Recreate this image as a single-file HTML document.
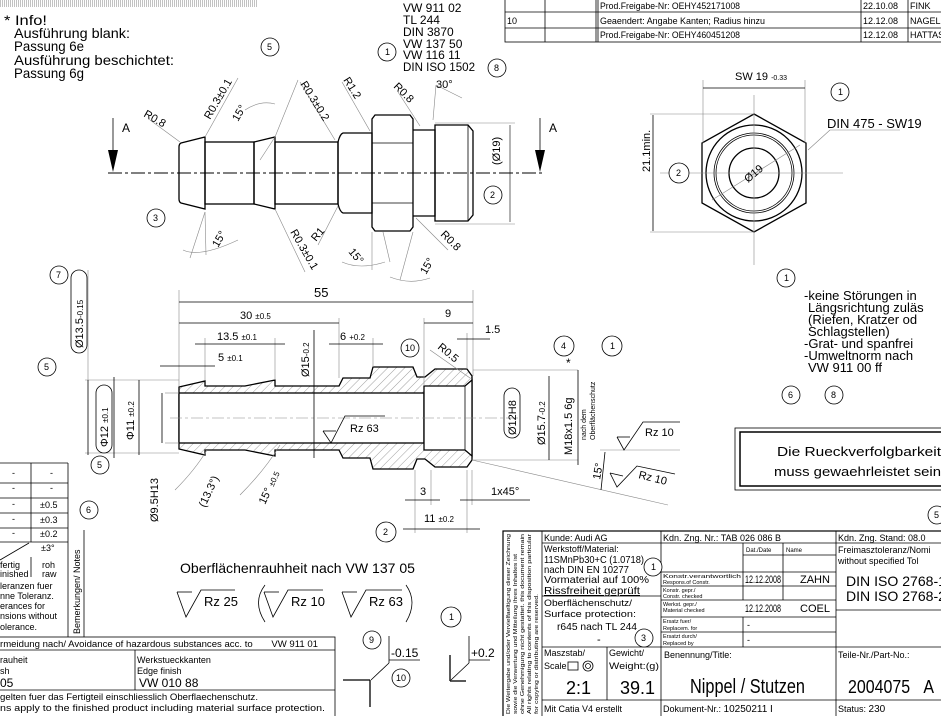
<!DOCTYPE html>
<html><head><meta charset="utf-8">
<style>
html,body{margin:0;padding:0;background:#fff;}
svg{display:block;}
text{font-family:"Liberation Sans Narrow","Liberation Sans","DejaVu Sans",sans-serif;fill:#000;}
.t{font-size:12px;}
.s{font-size:9px;}
.m{font-size:11px;}
.th{stroke:#000;stroke-width:1.3;fill:none;}
.tn{stroke:#000;stroke-width:0.8;fill:none;}
.lt{stroke:#888;stroke-width:0.6;fill:none;}
.c{stroke:#000;stroke-width:0.8;fill:#fff;}
</style></head>
<body>
<svg width="941" height="716" viewBox="0 0 941 716" xmlns="http://www.w3.org/2000/svg">
<defs>
<pattern id="h" width="6" height="6" patternUnits="userSpaceOnUse" patternTransform="rotate(45)">
<line x1="0" y1="0" x2="0" y2="6" stroke="#777" stroke-width="0.7"/>
</pattern>
<pattern id="v" width="2" height="7" patternUnits="userSpaceOnUse">
<line x1="0.5" y1="0" x2="0.5" y2="7" stroke="#999" stroke-width="0.6"/>
</pattern>
</defs>

<rect x="0" y="0" width="258" height="7" fill="url(#v)"/>

<g style="font-size:14px">
<text x="4" y="25" textLength="43" lengthAdjust="spacingAndGlyphs">* Info!</text>
<text x="14" y="38" textLength="116" lengthAdjust="spacingAndGlyphs">Ausführung blank:</text>
<text x="14" y="51" textLength="70" lengthAdjust="spacingAndGlyphs">Passung 6e</text>
<text x="14" y="65" textLength="160" lengthAdjust="spacingAndGlyphs">Ausführung beschichtet:</text>
<text x="14" y="78" textLength="70" lengthAdjust="spacingAndGlyphs">Passung 6g</text>
</g>

<text class="t" x="403" y="12">VW 911 02</text>
<text class="t" x="403" y="24">TL 244</text>
<text class="t" x="403" y="36">DIN 3870</text>
<text class="t" x="403" y="48">VW 137 50</text>
<text class="t" x="403" y="59">VW 116 11</text>
<text class="t" x="403" y="71" textLength="72" lengthAdjust="spacingAndGlyphs">DIN ISO 1502</text>
<circle class="c" cx="270" cy="47" r="9"/><text class="s" x="267" y="50">5</text>
<circle class="c" cx="387" cy="52" r="9"/><text class="s" x="385" y="55">1</text>
<circle class="c" cx="497" cy="68" r="9"/><text class="s" x="494" y="71">8</text>

<g class="tn">
<rect x="505" y="-1" width="440" height="43"/>
<line x1="505" y1="12" x2="941" y2="12"/>
<line x1="505" y1="28" x2="941" y2="28"/>
<line x1="545" y1="0" x2="545" y2="42"/>
<line x1="596" y1="0" x2="596" y2="42"/>
<line x1="598" y1="0" x2="598" y2="42"/>
<line x1="861" y1="0" x2="861" y2="42"/>
<line x1="908" y1="0" x2="908" y2="42"/>
</g>
<text class="s" x="600" y="9" textLength="140" lengthAdjust="spacingAndGlyphs">Prod.Freigabe-Nr: OEHY452171008</text>
<text class="s" x="863" y="9">22.10.08</text><text class="s" x="910" y="9">FINK</text>
<text class="s" x="507" y="24">10</text>
<text class="s" x="600" y="24" textLength="165" lengthAdjust="spacingAndGlyphs">Geaendert: Angabe Kanten; Radius hinzu</text>
<text class="s" x="863" y="24">12.12.08</text><text class="s" x="910" y="24">NAGEL</text>
<text class="s" x="600" y="38" textLength="140" lengthAdjust="spacingAndGlyphs">Prod.Freigabe-Nr: OEHY460451208</text>
<text class="s" x="863" y="38">12.12.08</text><text class="s" x="910" y="38">HATTAS</text>

<!-- SIDE VIEW -->
<line x1="108" y1="173" x2="545" y2="173" stroke="#000" stroke-width="1" stroke-dasharray="14,3,3,3"/>
<g class="th">
<path d="M181,143 L205,137 L205,209 L181,203 Q179,202 179,199 L179,147 Q179,144 181,143 Z"/>
<rect x="205" y="142" width="49" height="62"/>
<path d="M254,142 L275,137 L275,209 L254,204 Z"/>
<rect x="275" y="142" width="63" height="62"/>
<path d="M338,142 Q340,134 343,133 L372,133 L372,213 L343,213 Q340,212 338,204 Z"/>
<path d="M375,115 L410,115 L413,119 L413,227 L410,231 L375,231 L372,227 L372,119 Z"/>
<path d="M413,130 L435,130 L435,216 L413,216"/>
<path d="M435,125 L468,125 L473,131 L473,215 L468,221 L435,221 Z"/>
</g>
<g class="tn">
<line x1="372" y1="143" x2="413" y2="143"/><line x1="372" y1="203" x2="413" y2="203"/>
<line x1="468" y1="125" x2="468" y2="221"/>
</g>
<g class="lt">
<line x1="435" y1="123" x2="515" y2="123"/><line x1="435" y1="224" x2="515" y2="224"/>
<line x1="510" y1="125" x2="510" y2="222" stroke="#000"/>
<line x1="150" y1="120" x2="180" y2="142"/><line x1="205" y1="137" x2="238" y2="78"/>
<line x1="275" y1="137" x2="298" y2="80"/><line x1="335" y1="140" x2="300" y2="82"/>
<line x1="370" y1="131" x2="342" y2="82"/><line x1="420" y1="126" x2="398" y2="92"/>
<line x1="433" y1="120" x2="436" y2="85"/><line x1="436" y1="85" x2="462" y2="98"/>
<line x1="205" y1="212" x2="190" y2="258"/><line x1="205" y1="212" x2="206" y2="255"/>
<line x1="275" y1="209" x2="305" y2="272"/><line x1="338" y1="206" x2="318" y2="245"/>
<line x1="372" y1="232" x2="372" y2="270"/><line x1="383" y1="232" x2="390" y2="262"/>
<line x1="413" y1="232" x2="400" y2="280"/><line x1="416" y1="218" x2="448" y2="250"/>
<line x1="260" y1="160" x2="275" y2="137"/>
<path d="M245,110 Q260,100 275,104"/><path d="M183,250 Q200,258 238,240"/>
<path d="M342,262 Q360,270 385,262"/><path d="M390,277 Q410,285 430,278"/>
</g>
<text class="m" transform="translate(500,165) rotate(-90)">(Ø19)</text>
<circle class="c" cx="493" cy="195" r="9"/><text class="s" x="490" y="198">2</text>
<circle class="c" cx="156" cy="218" r="9"/><text class="s" x="153" y="221">3</text>
<text class="m" transform="translate(143,116) rotate(30)">R0.8</text>
<text class="m" transform="translate(210,120) rotate(-60)">R0.3±0.1</text>
<text class="m" transform="translate(238,122) rotate(-60)">15°</text>
<text class="m" transform="translate(300,84) rotate(58)">R0.3±0.2</text>
<text class="m" transform="translate(343,80) rotate(58)">R1.2</text>
<text class="m" transform="translate(393,87) rotate(45)">R0.8</text>
<text class="m" x="436" y="88">30°</text>
<text class="m" transform="translate(218,248) rotate(-60)">15°</text>
<text class="m" transform="translate(290,232) rotate(60)">R0.3±0.1</text>
<text class="m" transform="translate(316,242) rotate(-50)">R1</text>
<text class="m" transform="translate(348,252) rotate(50)">15°</text>
<text class="m" transform="translate(440,235) rotate(45)">R0.8</text>
<text class="m" transform="translate(426,275) rotate(-60)">15°</text>
<line x1="113" y1="118" x2="113" y2="150" class="tn"/>
<polygon points="108,150 118,150 113,172" fill="#000"/>
<text class="t" x="122" y="132">A</text>
<line x1="540" y1="118" x2="540" y2="150" class="tn"/>
<polygon points="535,150 545,150 540,172" fill="#000"/>
<text class="t" x="549" y="132">A</text>

<!-- HEX END VIEW -->
<g class="th">
<polygon points="754,114 806,143 806,203 754,232 702,203 702,143"/>
<circle cx="754" cy="173" r="48"/>
<circle cx="754" cy="173" r="40" class="tn"/>
<circle cx="754" cy="173" r="38" class="tn"/>
<circle cx="754" cy="173" r="25"/>
</g>
<g class="lt">
<line x1="660" y1="173" x2="843" y2="173"/><line x1="754" y1="95" x2="754" y2="265"/>
<line x1="712" y1="200" x2="800" y2="145"/>
<line x1="650" y1="114" x2="754" y2="114"/><line x1="650" y1="232" x2="754" y2="232"/>
<line x1="703" y1="80" x2="703" y2="143"/><line x1="805" y1="80" x2="805" y2="143"/>
<line x1="808" y1="150" x2="830" y2="130"/><line x1="830" y1="130" x2="900" y2="130"/>
</g>
<line x1="653" y1="115" x2="653" y2="231" class="tn"/>
<line x1="703" y1="88" x2="805" y2="88" class="tn"/>
<text class="m" transform="translate(650,172) rotate(-90)">21.1min.</text>
<text class="m" x="735" y="80">SW 19 <tspan font-size="7">-0.33</tspan></text>
<text class="m" transform="translate(748,183) rotate(-40)">Ø19</text>
<circle class="c" cx="840" cy="92" r="9"/><text class="s" x="838" y="95">1</text>
<text style="font-size:13px" x="827" y="128">DIN 475 - SW19</text>
<circle class="c" cx="679" cy="173" r="10"/><text class="s" x="676" y="176">2</text>

<circle class="c" cx="786" cy="278" r="9"/><text class="s" x="784" y="281">1</text>
<text style="font-size:13px" x="804" y="300">-keine Störungen in</text>
<text style="font-size:13px" x="808" y="312">Längsrichtung zuläs</text>
<text style="font-size:13px" x="808" y="324">(Riefen, Kratzer od</text>
<text style="font-size:13px" x="808" y="336">Schlagstellen)</text>
<text style="font-size:13px" x="804" y="348">-Grat- und spanfrei</text>
<text style="font-size:13px" x="804" y="360">-Umweltnorm nach</text>
<text style="font-size:13px" x="808" y="372">VW 911 00 ff</text>
<circle class="c" cx="791" cy="395" r="9"/><text class="s" x="788" y="398">6</text>
<circle class="c" cx="834" cy="395" r="9"/><text class="s" x="831" y="398">8</text>

<rect x="735" y="428" width="210" height="62" class="tn"/>
<rect x="740" y="432" width="205" height="54" stroke="#000" stroke-width="1.5" fill="none"/>
<text style="font-size:13px" x="777" y="456" textLength="164" lengthAdjust="spacingAndGlyphs">Die Rueckverfolgbarkeit</text>
<text style="font-size:13px" x="774" y="476" textLength="167" lengthAdjust="spacingAndGlyphs">muss gewaehrleistet sein</text>
<circle class="c" cx="937" cy="515" r="9"/><text class="s" x="934" y="518">5</text>

<!-- SECTION VIEW -->
<path fill="url(#h)" fill-rule="evenodd" stroke="#000" stroke-width="1.3"
d="M179,387 L205,381 L205,386 L245,386 L275,380 L275,386 L339,386 L343,378 L370,378 L373,367 L413,367 L415,372 L417,377 L425,377 L435,369 L467,369 L472,376 L472,460 L467,467 L435,467 L425,459 L417,459 L415,464 L413,469 L373,469 L370,458 L343,458 L339,450 L275,450 L275,456 L245,450 L205,450 L205,455 L179,449 Z"/>
<rect x="179" y="393" width="245" height="50" fill="#fff" stroke="#000" stroke-width="1.3"/>
<path d="M424,386 L465,386 L472,380 L472,456 L465,450 L424,450 Z" fill="#fff" stroke="#000" stroke-width="1.3"/>
<line x1="465" y1="386" x2="465" y2="450" class="tn"/>
<line x1="170" y1="418" x2="520" y2="418" class="lt" stroke-dasharray="12,3,3,3"/>
<g class="lt">
<line x1="179" y1="290" x2="179" y2="386"/><line x1="473" y1="290" x2="473" y2="376"/>
<line x1="339" y1="318" x2="339" y2="378"/><line x1="205" y1="338" x2="205" y2="380"/>
<line x1="275" y1="338" x2="275" y2="380"/><line x1="373" y1="338" x2="373" y2="367"/>
<line x1="424" y1="318" x2="424" y2="386"/><line x1="467" y1="333" x2="467" y2="369"/>
<line x1="85" y1="380" x2="179" y2="380"/><line x1="85" y1="453" x2="179" y2="453"/>
<line x1="88" y1="270" x2="88" y2="380"/>
<line x1="415" y1="470" x2="415" y2="533"/><line x1="431" y1="470" x2="431" y2="505"/>
<line x1="467" y1="470" x2="467" y2="533"/><line x1="472" y1="470" x2="472" y2="505"/>
<line x1="472" y1="460" x2="668" y2="505"/><line x1="473" y1="370" x2="578" y2="370"/>
<line x1="473" y1="460" x2="578" y2="460"/><line x1="600" y1="450" x2="680" y2="450"/>
<path d="M175,490 Q195,470 207,450"/><path d="M240,495 Q265,470 280,445"/>
<line x1="165" y1="393" x2="179" y2="393"/><line x1="165" y1="443" x2="179" y2="443"/>
</g>
<g class="tn">
<line x1="179" y1="302" x2="473" y2="302"/>
<line x1="179" y1="323" x2="339" y2="323"/>
<line x1="195" y1="344" x2="285" y2="344"/>
<line x1="160" y1="366" x2="215" y2="366"/>
<line x1="329" y1="344" x2="383" y2="344"/>
<line x1="424" y1="323" x2="473" y2="323"/>
<line x1="457" y1="339" x2="490" y2="339"/>
<line x1="314" y1="330" x2="314" y2="458"/>
<line x1="114" y1="377" x2="114" y2="458"/>
<line x1="139" y1="380" x2="139" y2="455"/>
<line x1="162" y1="393" x2="162" y2="443"/>
<line x1="88" y1="380" x2="88" y2="455"/>
<line x1="549" y1="376" x2="549" y2="460"/>
<line x1="578" y1="370" x2="578" y2="465"/>
<line x1="405" y1="500" x2="440" y2="500"/><line x1="460" y1="500" x2="530" y2="500"/>
<line x1="403" y1="529" x2="480" y2="529"/>
<line x1="605" y1="452" x2="601" y2="490"/>
</g>
<text style="font-size:13px" x="314" y="297">55</text>
<text class="m" x="240" y="319">30 <tspan font-size="8">±0.5</tspan></text>
<text class="m" x="217" y="340">13.5 <tspan font-size="8">±0.1</tspan></text>
<text class="m" x="218" y="361">5 <tspan font-size="8">±0.1</tspan></text>
<text class="m" x="340" y="340">6 <tspan font-size="8">+0.2</tspan></text>
<text class="m" transform="translate(309,377) rotate(-90)">Ø15<tspan font-size="8">-0.2</tspan></text>
<text class="m" x="445" y="317">9</text>
<text class="m" x="485" y="333">1.5</text>
<circle class="c" cx="410" cy="348" r="9"/><text class="s" x="405" y="351">10</text>
<text class="m" transform="translate(437,348) rotate(40)">R0.5</text>
<line x1="430" y1="350" x2="470" y2="378" class="lt"/>
<rect x="96" y="385" width="16" height="68" rx="8" class="tn"/>
<text class="m" transform="translate(108,447) rotate(-90)">Φ12 <tspan font-size="8">±0.1</tspan></text>
<text class="m" transform="translate(134,440) rotate(-90)">Φ11 <tspan font-size="8">±0.2</tspan></text>
<rect x="71" y="270" width="16" height="83" rx="8" class="tn"/>
<text class="m" transform="translate(83,348) rotate(-90)">Ø13.5<tspan font-size="8">-0.15</tspan></text>
<circle class="c" cx="59" cy="275" r="9"/><text class="s" x="56" y="278">7</text>
<circle class="c" cx="47" cy="367" r="9"/><text class="s" x="44" y="370">5</text>
<circle class="c" cx="100" cy="465" r="9"/><text class="s" x="97" y="468">5</text>
<circle class="c" cx="89" cy="510" r="9"/><text class="s" x="86" y="513">6</text>
<text class="m" transform="translate(158,522) rotate(-90)">Ø9.5H13</text>
<text class="m" transform="translate(205,508) rotate(-65)">(13.3°)</text>
<text class="m" transform="translate(265,505) rotate(-65)">15° <tspan font-size="8">±0.5</tspan></text>
<rect x="504" y="388" width="16" height="50" rx="8" class="tn"/>
<text class="m" transform="translate(516,435) rotate(-90)">Ø12H8</text>
<text class="m" transform="translate(545,445) rotate(-90)">Ø15.7<tspan font-size="8">-0.2</tspan></text>
<text class="m" transform="translate(572,455) rotate(-90)">M18x1.5 6g</text>
<text font-size="7" transform="translate(586,440) rotate(-90)">nach dem</text>
<text font-size="7" transform="translate(595,440) rotate(-90)">Oberflächenschutz</text>
<text class="t" x="566" y="367">*</text>
<circle class="c" cx="564" cy="346" r="10"/><text class="s" x="561" y="349">4</text>
<circle class="c" cx="612" cy="346" r="10"/><text class="s" x="610" y="349">1</text>
<text class="m" transform="translate(600,480) rotate(-80)">15°</text>
<g class="tn">
<path d="M323,431 L331,443 L345,416 L385,416"/><path d="M323,431 L336,431"/>
<path d="M617,437 L624,450 L643,422 L680,422"/><path d="M617,437 L630,437"/>
<path d="M610,473 L617,487 L637,466 L675,474"/><path d="M610,473 L623,476"/>
</g>
<text class="m" x="350" y="432">Rz 63</text>
<text class="m" x="645" y="436">Rz 10</text>
<text class="m" transform="translate(638,478) rotate(14)">Rz 10</text>
<text class="m" x="420" y="495">3</text>
<text class="m" x="491" y="495">1x45°</text>
<text class="m" x="424" y="522">11 <tspan font-size="8">±0.2</tspan></text>
<circle class="c" cx="386" cy="532" r="10"/><text class="s" x="383" y="535">2</text>

<text style="font-size:14px" x="180" y="573" textLength="235" lengthAdjust="spacingAndGlyphs">Oberflächenrauhheit nach VW 137 05</text>
<g class="tn">
<path d="M177,592 L186,617 L201,590 L235,590"/><path d="M177,592 L192,592"/>
<path d="M264,592 L273,617 L288,590 L323,590"/><path d="M264,592 L279,592"/>
<path d="M342,592 L351,617 L366,590 L402,590"/><path d="M342,592 L357,592"/>
<path d="M265,585 Q252,602 265,622"/><path d="M406,585 Q418,602 406,622"/>
</g>
<text style="font-size:13px" x="204" y="606">Rz 25</text>
<text style="font-size:13px" x="291" y="606">Rz 10</text>
<text style="font-size:13px" x="369" y="606">Rz 63</text>
<circle class="c" cx="451" cy="617" r="10"/><text class="s" x="449" y="620">1</text>
<circle class="c" cx="372" cy="640" r="9"/><text class="s" x="369" y="643">9</text>
<circle class="c" cx="401" cy="678" r="9"/><text class="s" x="396" y="681">10</text>
<g class="tn">
<line x1="389" y1="636" x2="389" y2="663"/><line x1="389" y1="660" x2="420" y2="660"/>
<line x1="389" y1="663" x2="371" y2="680"/>
<line x1="343" y1="680" x2="370" y2="680" stroke-width="1.3"/><line x1="370" y1="680" x2="370" y2="707" stroke-width="1.3"/>
<line x1="469" y1="636" x2="469" y2="663"/><line x1="469" y1="660" x2="490" y2="660"/>
<line x1="469" y1="663" x2="451" y2="680"/>
<line x1="450" y1="655" x2="450" y2="681" stroke-width="1.3"/><line x1="450" y1="681" x2="466" y2="681" stroke-width="1.3"/>
</g>
<text class="t" x="391" y="657">-0.15</text>
<text class="t" x="471" y="657">+0.2</text>

<!-- left notes table -->
<g class="tn">
<line x1="0" y1="463" x2="68" y2="463"/>
<line x1="0" y1="483" x2="68" y2="483"/><line x1="0" y1="498" x2="68" y2="498"/>
<line x1="0" y1="513" x2="68" y2="513"/><line x1="0" y1="528" x2="68" y2="528"/>
<line x1="0" y1="542" x2="68" y2="542"/>
<line x1="31" y1="463" x2="31" y2="542"/><line x1="31" y1="557" x2="31" y2="577"/>
<line x1="68" y1="463" x2="68" y2="637"/><line x1="84" y1="530" x2="84" y2="637"/>
<line x1="0" y1="560" x2="29" y2="543"/>
</g>
<text class="s" x="12" y="476">-</text><text class="s" x="50" y="476">-</text>
<text class="s" x="12" y="491">-</text><text class="s" x="50" y="491">-</text>
<text class="s" x="12" y="507">-</text><text class="s" x="40" y="508">±0.5</text>
<text class="s" x="12" y="522">-</text><text class="s" x="40" y="523">±0.3</text>
<text class="s" x="12" y="536">-</text><text class="s" x="40" y="537">±0.2</text>
<text class="s" x="41" y="551">±3°</text>
<text class="s" x="0" y="568">fertig</text><text class="s" x="42" y="568">roh</text>
<text class="s" x="0" y="577">inished</text><text class="s" x="42" y="577">raw</text>
<text class="s" x="0" y="589">leranzen fuer</text>
<text class="s" x="0" y="599">nne Toleranz.</text>
<text class="s" x="0" y="609">erances for</text>
<text class="s" x="0" y="619">nsions without</text>
<text class="s" x="0" y="630">olerance.</text>
<text class="s" transform="translate(80,634) rotate(-90)">Bemerkungen/ Notes</text>

<!-- bottom-left panel -->
<g class="tn">
<rect x="-2" y="637" width="337" height="82"/>
<line x1="0" y1="650" x2="335" y2="650"/>
<line x1="0" y1="690" x2="335" y2="690"/>
<line x1="135" y1="650" x2="135" y2="690"/>
</g>
<text class="s" x="0" y="647" textLength="318" lengthAdjust="spacingAndGlyphs">rmeidung nach/ Avoidance of hazardous substances acc. to &#160;&#160;&#160;&#160;&#160;&#160;VW 911 01</text>
<text class="s" x="0" y="663">rauheit</text><text class="s" x="137" y="663">Werkstueckkanten</text>
<text class="s" x="0" y="674">sh</text><text class="s" x="137" y="674">Edge finish</text>
<text class="t" x="0" y="687">05</text><text class="t" x="139" y="687">VW 010 88</text>
<text class="s" x="0" y="700" textLength="258" lengthAdjust="spacingAndGlyphs">gelten fuer das Fertigteil einschliesslich Oberflaechenschutz.</text>
<text class="s" x="0" y="711" textLength="325" lengthAdjust="spacingAndGlyphs">ns apply to the finished product including material surface protection.</text>

<!-- TITLE BLOCK -->
<g class="tn">
<rect x="503" y="531" width="440" height="190" stroke-width="1.2"/>
<line x1="542" y1="531" x2="542" y2="716"/>
<line x1="661" y1="531" x2="661" y2="716"/>
<line x1="836" y1="531" x2="836" y2="716"/>
<line x1="542" y1="543" x2="941" y2="543"/>
<line x1="542" y1="596" x2="661" y2="596"/>
<line x1="542" y1="647" x2="941" y2="647"/>
<line x1="542" y1="700" x2="941" y2="700"/>
<line x1="607" y1="647" x2="607" y2="700"/>
<line x1="743" y1="555" x2="836" y2="555"/>
<line x1="661" y1="572" x2="836" y2="572"/>
<line x1="661" y1="586" x2="836" y2="586"/>
<line x1="661" y1="600" x2="836" y2="600"/>
<line x1="661" y1="617" x2="836" y2="617"/>
<line x1="661" y1="632" x2="836" y2="632"/>
<line x1="743" y1="543" x2="743" y2="600"/>
<line x1="783" y1="543" x2="783" y2="600"/>
<line x1="743" y1="617" x2="743" y2="647"/>
<line x1="836" y1="610" x2="941" y2="610"/>
</g>
<g font-size="5.5">
<text transform="translate(510,714) rotate(-90)" textLength="180" lengthAdjust="spacingAndGlyphs">Die Weitergabe und/oder Vervielfaeltigung dieser Zeichnung</text>
<text transform="translate(517,714) rotate(-90)" textLength="160" lengthAdjust="spacingAndGlyphs">sowie die Verwertung und Mitteilung ihres Inhaltes ist</text>
<text transform="translate(524,714) rotate(-90)" textLength="180" lengthAdjust="spacingAndGlyphs">ohne Genehmigung nicht gestattet. this document remain</text>
<text transform="translate(531,714) rotate(-90)" textLength="180" lengthAdjust="spacingAndGlyphs">All rights relating to contents of this disposition particular</text>
<text transform="translate(538,714) rotate(-90)" textLength="120" lengthAdjust="spacingAndGlyphs">for copying or distributing are reserved.</text>
</g>

<text class="s" x="544" y="541">Kunde: Audi AG</text>
<text class="s" x="544" y="552">Werkstoff/Material:</text>
<text font-size="10.5" x="544" y="563" textLength="100" lengthAdjust="spacingAndGlyphs">11SMnPb30+C (1.0718)</text>
<text font-size="10.5" x="544" y="573" textLength="85" lengthAdjust="spacingAndGlyphs">nach DIN EN 10277</text>
<text font-size="10.5" x="544" y="583" textLength="105" lengthAdjust="spacingAndGlyphs">Vormaterial auf 100%</text>
<text font-size="10.5" x="544" y="594" textLength="96" lengthAdjust="spacingAndGlyphs" style="text-decoration:underline">Rissfreiheit geprüft</text>
<text class="s" x="544" y="606" textLength="88" lengthAdjust="spacingAndGlyphs">Oberflächenschutz/</text>
<text class="s" x="544" y="617" textLength="92" lengthAdjust="spacingAndGlyphs">Surface protection:</text>
<text font-size="10.5" x="557" y="630" textLength="80" lengthAdjust="spacingAndGlyphs">r645 nach TL 244</text>
<text class="m" x="597" y="643">-</text>
<circle class="c" cx="653" cy="567" r="9"/><text class="s" x="651" y="570">1</text>
<circle class="c" cx="644" cy="638" r="9"/><text class="s" x="641" y="641">3</text>
<text class="s" x="544" y="656">Maszstab/</text>
<text class="s" x="544" y="669">Scale</text>
<rect x="568" y="662" width="10" height="8" class="tn"/>
<circle cx="588" cy="666" r="5" class="tn"/><circle cx="588" cy="666" r="2.5" class="tn"/>
<text style="font-size:18px" x="566" y="694">2:1</text>
<text class="s" x="609" y="656">Gewicht/</text>
<text class="s" x="609" y="669" textLength="50" lengthAdjust="spacingAndGlyphs">Weight:(g)</text>
<text style="font-size:18px" x="620" y="694">39.1</text>
<text class="s" x="544" y="712">Mit Catia V4 erstellt</text>

<text class="s" x="663" y="541" textLength="118" lengthAdjust="spacingAndGlyphs">Kdn. Zng. Nr.: TAB 026 086 B</text>
<text font-size="6" x="746" y="552">Dat./Date</text><text font-size="6" x="786" y="552">Name</text>
<text font-size="5.5" x="663" y="578" textLength="78" lengthAdjust="spacingAndGlyphs">Konstr.verantwortlich</text>
<text font-size="5.5" x="663" y="584">Respons.of Constr.</text>
<text class="m" x="745" y="583" textLength="36" lengthAdjust="spacingAndGlyphs">12.12.2008</text>
<text class="m" x="800" y="583">ZAHN</text>
<text font-size="5.5" x="663" y="592">Konstr. gepr./</text><text font-size="5.5" x="663" y="598">Constr. checked</text>
<text font-size="5.5" x="663" y="606">Werkst. gepr./</text><text font-size="5.5" x="663" y="612">Material checked</text>
<text class="m" x="745" y="612" textLength="36" lengthAdjust="spacingAndGlyphs">12.12.2008</text>
<text class="m" x="800" y="612">COEL</text>
<text font-size="5.5" x="663" y="623">Ersatz fuer/</text><text font-size="5.5" x="663" y="630">Replacem. for</text>
<text class="s" x="747" y="628">-</text>
<text font-size="5.5" x="663" y="638">Ersatzt durch/</text><text font-size="5.5" x="663" y="645">Replaced by</text>
<text class="s" x="747" y="643">-</text>
<text class="s" x="664" y="658">Benennung/Title:</text>
<text style="font-size:20px" x="690" y="693" textLength="115" lengthAdjust="spacingAndGlyphs">Nippel / Stutzen</text>
<text class="s" x="663" y="712">Dokument-Nr.: <tspan font-size="10">10250211 I</tspan></text>

<text class="s" x="838" y="541">Kdn. Zng. Stand: 08.0</text>
<text class="s" x="838" y="553">Freimasztoleranz/Nomi</text>
<text class="s" x="838" y="564">without specified Tol</text>
<text style="font-size:14px" x="846" y="586" textLength="100" lengthAdjust="spacingAndGlyphs">DIN ISO 2768-1</text>
<text style="font-size:14px" x="846" y="601" textLength="100" lengthAdjust="spacingAndGlyphs">DIN ISO 2768-2</text>
<text class="s" x="838" y="658">Teile-Nr./Part-No.:</text>
<text style="font-size:18px" x="848" y="693" textLength="86" lengthAdjust="spacingAndGlyphs">2004075 &#160;&#160;A</text>
<text class="s" x="838" y="712">Status: <tspan font-size="10">230</tspan></text>
</svg>
</body></html>
